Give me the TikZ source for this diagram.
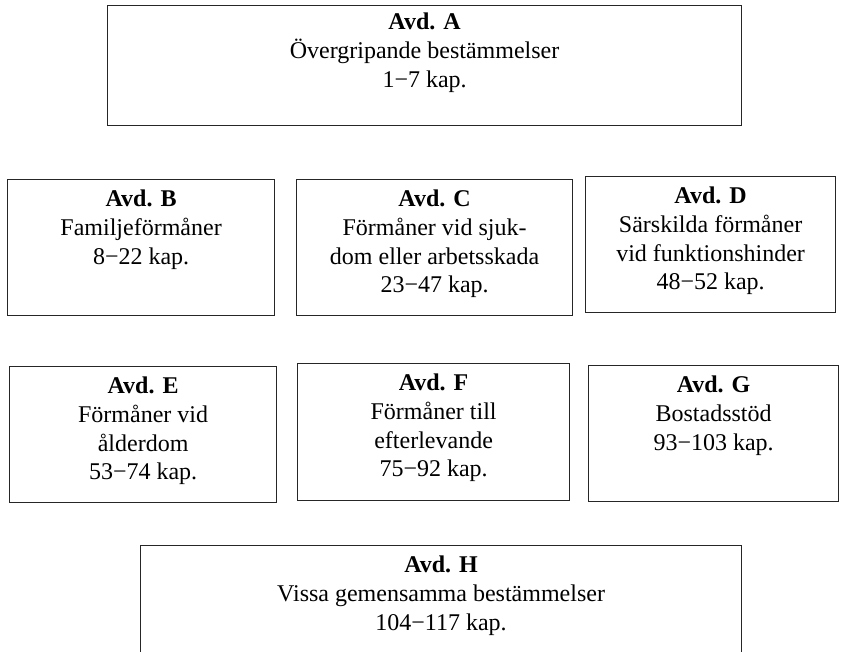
\documentclass[tikz,border=0pt]{standalone}
\usepackage{fontspec}
\setmainfont{Liberation Serif}
\begin{document}
\begin{tikzpicture}[x=1pt,y=-1pt,
  box/.style={draw=black!85, line width=1.2pt, anchor=north west, inner sep=0pt},
  txt/.style={align=center, inner sep=0pt, anchor=north, font=\fontsize{24}{28.7}\selectfont},
]
\useasboundingbox (0,0) rectangle (847,652);
% boxes
\node[box, minimum width=634pt, minimum height=120pt] (A) at (107,5) {};
\node[box, minimum width=267pt, minimum height=136pt] (B) at (7,179) {};
\node[box, minimum width=276pt, minimum height=136pt] (C) at (296,179) {};
\node[box, minimum width=250pt, minimum height=136pt] (D) at (585,176) {};
\node[box, minimum width=267pt, minimum height=136pt] (E) at (9,366) {};
\node[box, minimum width=272pt, minimum height=137pt] (F) at (297,363) {};
\node[box, minimum width=250pt, minimum height=136pt] (G) at (588,365) {};
\node[box, minimum width=601pt, minimum height=130pt] (H) at (140,545) {};
% texts
\node[txt] (At) at ([yshift=-8pt]A.north) {\textbf{Avd. A}\\Övergripande bestämmelser\\1−7 kap.};
\node[txt] (Bt) at ([yshift=-11pt]B.north) {\textbf{Avd. B}\\Familjeförmåner\\8−22 kap.};
\node[txt] (Ct) at ([yshift=-11pt]C.north) {\textbf{Avd. C}\\Förmåner vid sjuk-\\dom eller arbetsskada\\23−47 kap.};
\node[txt] (Dt) at ([yshift=-11pt]D.north) {\textbf{Avd. D}\\Särskilda förmåner\\vid funktionshinder\\48−52 kap.};
\node[txt] (Et) at ([yshift=-11pt]E.north) {\textbf{Avd. E}\\Förmåner vid\\ålderdom\\53−74 kap.};
\node[txt] (Ft) at ([yshift=-11pt]F.north) {\textbf{Avd. F}\\Förmåner till\\efterlevande\\75−92 kap.};
\node[txt] (Gt) at ([yshift=-11pt]G.north) {\textbf{Avd. G}\\Bostadsstöd\\93−103 kap.};
\node[txt] (Ht) at ([yshift=-11pt]H.north) {\textbf{Avd. H}\\Vissa gemensamma bestämmelser\\104−117 kap.};
\end{tikzpicture}
\end{document}
